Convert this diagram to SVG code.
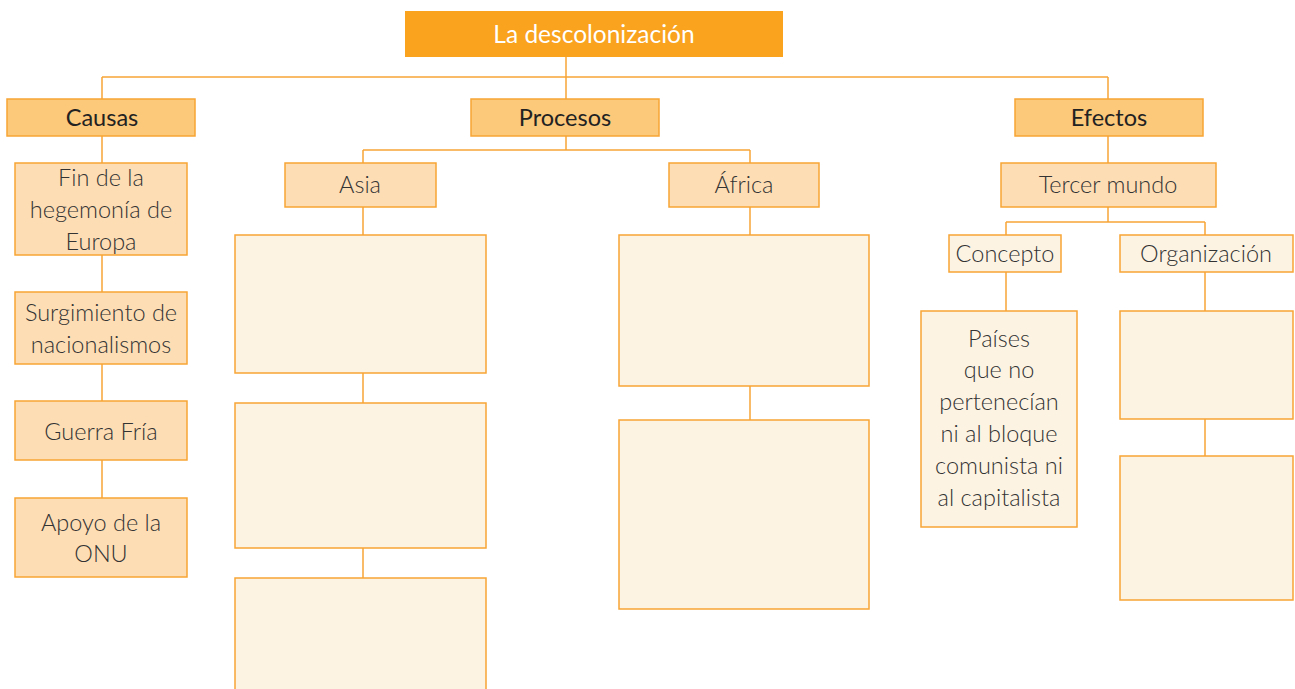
<svg xmlns="http://www.w3.org/2000/svg" width="1295" height="689" viewBox="0 0 1295 689">
<style>
rect{stroke:#F7A535;stroke-width:1.5}
.t{fill:#F9A31E;stroke:none}
.h{fill:#FCC87A}
.m{fill:#FDDDB4}
.l{fill:#FDF3E3}
text{font-family:Lato,"Open Sans","Liberation Sans",sans-serif;font-size:23.5px;fill:#333;text-anchor:middle;font-weight:300}
.b{font-weight:400;fill:#222}
.w{fill:#fff;font-weight:400;font-size:24.5px}
#connectors line{stroke:#F7A535;stroke-width:1.5}
</style>
<rect width="1295" height="689" fill="#fff" style="stroke:none"/>
<g id="connectors">
<line x1="566" y1="57" x2="566" y2="99"/>
<line x1="102" y1="77" x2="1108" y2="77"/>
<line x1="102" y1="77" x2="102" y2="99"/>
<line x1="1108" y1="77" x2="1108" y2="99"/>
<line x1="102" y1="136" x2="102" y2="498"/>
<line x1="566" y1="136" x2="566" y2="150"/>
<line x1="363" y1="150" x2="750" y2="150"/>
<line x1="363" y1="150" x2="363" y2="163"/>
<line x1="750" y1="150" x2="750" y2="163"/>
<line x1="363" y1="207" x2="363" y2="578"/>
<line x1="750" y1="207" x2="750" y2="420"/>
<line x1="1108" y1="136" x2="1108" y2="163"/>
<line x1="1108" y1="207" x2="1108" y2="222"/>
<line x1="1006" y1="222" x2="1205" y2="222"/>
<line x1="1006" y1="222" x2="1006" y2="235"/>
<line x1="1205" y1="222" x2="1205" y2="235"/>
<line x1="1006" y1="272" x2="1006" y2="311"/>
<line x1="1205" y1="272" x2="1205" y2="456"/>
</g>
<g id="title"><rect class="t" x="405" y="11" width="378" height="46"/><text class="w" x="594" y="43">La descolonización</text></g>
<g id="causas"><rect class="h" x="7" y="99" width="188" height="37"/><text class="b" x="102" y="126">Causas</text></g>
<g id="procesos"><rect class="h" x="471" y="99" width="188" height="37"/><text class="b" x="565" y="126">Procesos</text></g>
<g id="efectos"><rect class="h" x="1015" y="99" width="188" height="37"/><text class="b" x="1109" y="126">Efectos</text></g>
<g id="fin"><rect class="m" x="15" y="163" width="172" height="92"/><text x="101" y="186">Fin de la</text><text x="101" y="218">hegemonía de</text><text x="101" y="250">Europa</text></g>
<g id="surgimiento"><rect class="m" x="15" y="292" width="172" height="72"/><text x="101" y="321">Surgimiento de</text><text x="101" y="353">nacionalismos</text></g>
<g id="guerra"><rect class="m" x="15" y="401" width="172" height="59"/><text x="101" y="440">Guerra Fría</text></g>
<g id="apoyo"><rect class="m" x="15" y="498" width="172" height="79"/><text x="101" y="531">Apoyo de la</text><text x="101" y="562">ONU</text></g>
<g id="asia"><rect class="m" x="285" y="163" width="151" height="44"/><text x="360" y="193">Asia</text></g>
<g id="africa"><rect class="m" x="669" y="163" width="150" height="44"/><text x="744" y="193">África</text></g>
<g id="asia1"><rect class="l" x="235" y="235" width="251" height="138"/></g>
<g id="asia2"><rect class="l" x="235" y="403" width="251" height="145"/></g>
<g id="asia3"><rect class="l" x="235" y="578" width="251" height="120"/></g>
<g id="africa1"><rect class="l" x="619" y="235" width="250" height="151"/></g>
<g id="africa2"><rect class="l" x="619" y="420" width="250" height="189"/></g>
<g id="tercer"><rect class="m" x="1001" y="163" width="215" height="44"/><text x="1108" y="193">Tercer mundo</text></g>
<g id="concepto"><rect class="l" x="949" y="235" width="112" height="37"/><text x="1005" y="262">Concepto</text></g>
<g id="organizacion"><rect class="l" x="1120" y="235" width="173" height="37"/><text x="1206" y="262">Organización</text></g>
<g id="paises"><rect class="l" x="921" y="311" width="156" height="216"/>
<text x="999" y="347">Países</text><text x="999" y="378">que no</text><text x="999" y="410">pertenecían</text><text x="999" y="442">ni al bloque</text><text x="999" y="474">comunista ni</text><text x="999" y="506">al capitalista</text></g>
<g id="org1"><rect class="l" x="1120" y="311" width="173" height="108"/></g>
<g id="org2"><rect class="l" x="1120" y="456" width="173" height="144"/></g>
</svg>
